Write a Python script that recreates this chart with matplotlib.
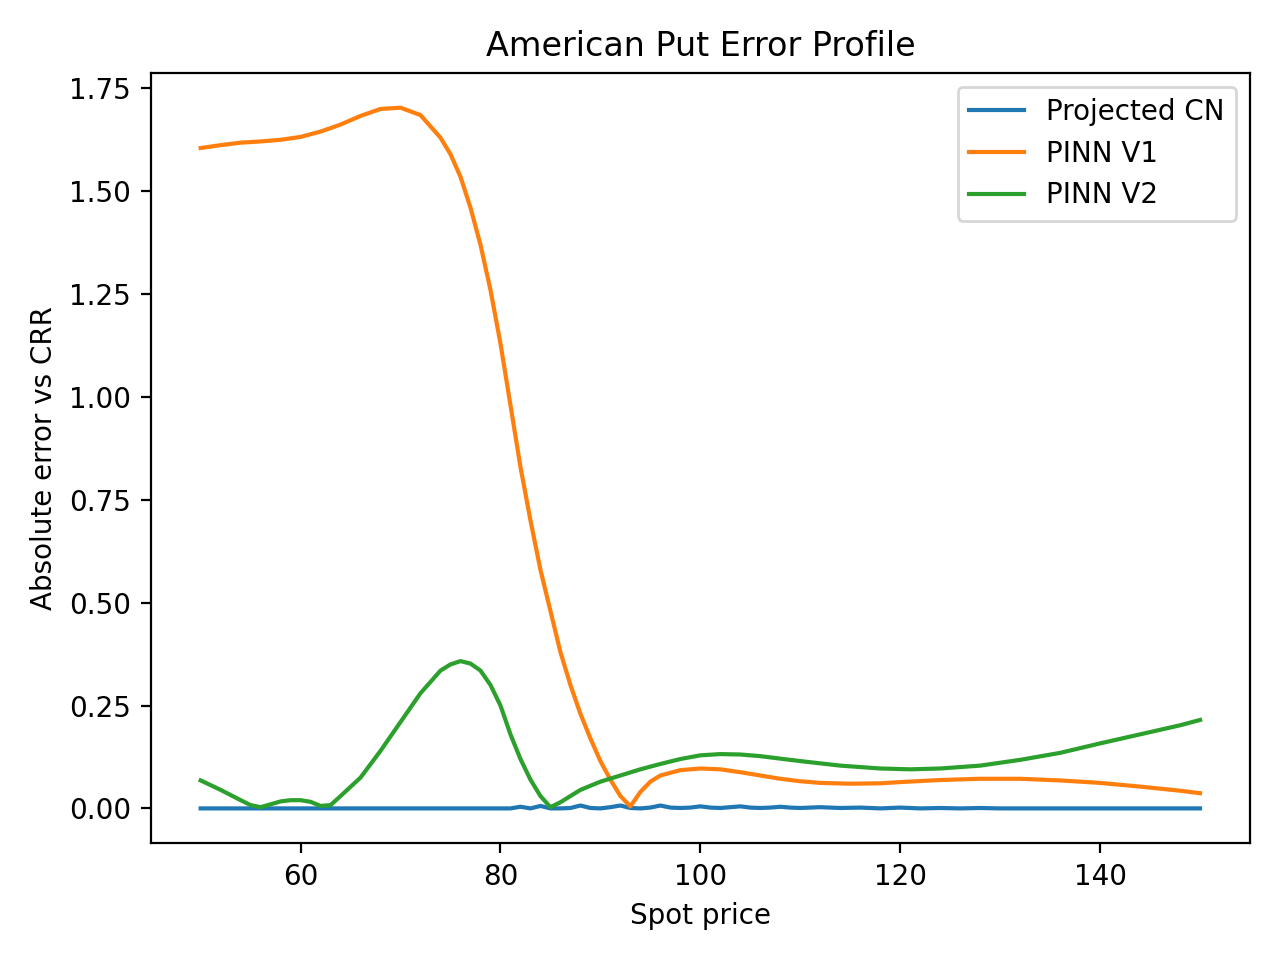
import matplotlib
matplotlib.use("Agg")
import matplotlib.pyplot as plt

# values
cn_x = [50, 60, 70, 80, 81, 82, 83, 84, 85, 86, 87, 88, 89, 90, 91, 92, 93, 94, 95, 96, 97, 98,
        99, 100, 101, 102, 103, 104, 105, 106, 107, 108, 109, 110, 112, 114, 116, 118, 120,
        122, 124, 126, 128, 130, 135, 140, 145, 150]
cn_y = [0.0, 0.0, 0.0, 0.0, 0.0, 0.004, 0.0, 0.006, 0.0, 0.0, 0.001, 0.007, 0.001, 0.0, 0.003,
        0.007, 0.001, 0.0, 0.002, 0.007, 0.002, 0.001, 0.002, 0.005, 0.002, 0.001, 0.003, 0.005,
        0.002, 0.001, 0.002, 0.004, 0.002, 0.001, 0.003, 0.001, 0.002, 0.0, 0.002, 0.0, 0.001,
        0.0, 0.001, 0.0, 0.0, 0.0, 0.0, 0.0]

v1_x = [50, 52, 54, 56, 58, 60, 62, 64, 66, 68, 70, 72, 74, 75, 76, 77, 78, 79, 80, 81, 82, 83,
        84, 85, 86, 87, 88, 89, 90, 91, 92, 93, 94, 95, 96, 98, 100, 102, 104, 106, 108, 110,
        112, 115, 118, 120, 124, 128, 132, 136, 140, 144, 148, 150]
v1_y = [1.605, 1.612, 1.618, 1.621, 1.625, 1.632, 1.645, 1.662, 1.683, 1.700, 1.703, 1.685,
        1.63, 1.59, 1.535, 1.46, 1.37, 1.26, 1.13, 0.98, 0.83, 0.70, 0.58, 0.48, 0.38, 0.30,
        0.23, 0.17, 0.115, 0.07, 0.03, 0.005, 0.04, 0.065, 0.08, 0.093, 0.097, 0.095, 0.088,
        0.08, 0.072, 0.066, 0.062, 0.06, 0.061, 0.064, 0.069, 0.072, 0.072, 0.068, 0.062,
        0.053, 0.043, 0.037]

v2_x = [50, 52, 54, 55, 56, 57, 58, 59, 60, 61, 62, 63, 64, 66, 68, 70, 72, 74, 75, 76, 77, 78,
        79, 80, 81, 82, 83, 84, 85, 86, 87, 88, 90, 92, 94, 96, 98, 100, 102, 104, 106, 108,
        110, 114, 118, 121, 124, 128, 132, 136, 140, 144, 148, 150]
v2_y = [0.068, 0.045, 0.02, 0.008, 0.003, 0.01, 0.017, 0.02, 0.02, 0.016, 0.006, 0.008, 0.03,
        0.075, 0.14, 0.21, 0.28, 0.335, 0.35, 0.358, 0.352, 0.335, 0.30, 0.25, 0.18, 0.12,
        0.07, 0.03, 0.003, 0.015, 0.03, 0.045, 0.065, 0.08, 0.095, 0.108, 0.12, 0.129, 0.132,
        0.131, 0.127, 0.121, 0.115, 0.104, 0.097, 0.095, 0.097, 0.104, 0.118, 0.135, 0.158,
        0.18, 0.202, 0.215]

fig, ax = plt.subplots(figsize=(6.4, 4.8), dpi=200)
ax.plot(cn_x, cn_y, label="Projected CN")
ax.plot(v1_x, v1_y, label="PINN V1")
ax.plot(v2_x, v2_y, label="PINN V2")
ax.set_xlabel("Spot price")
ax.set_ylabel("Absolute error vs CRR")
ax.set_title("American Put Error Profile")
ax.legend(loc="upper right")
fig.tight_layout()
fig.savefig("out.png", dpi=200)
